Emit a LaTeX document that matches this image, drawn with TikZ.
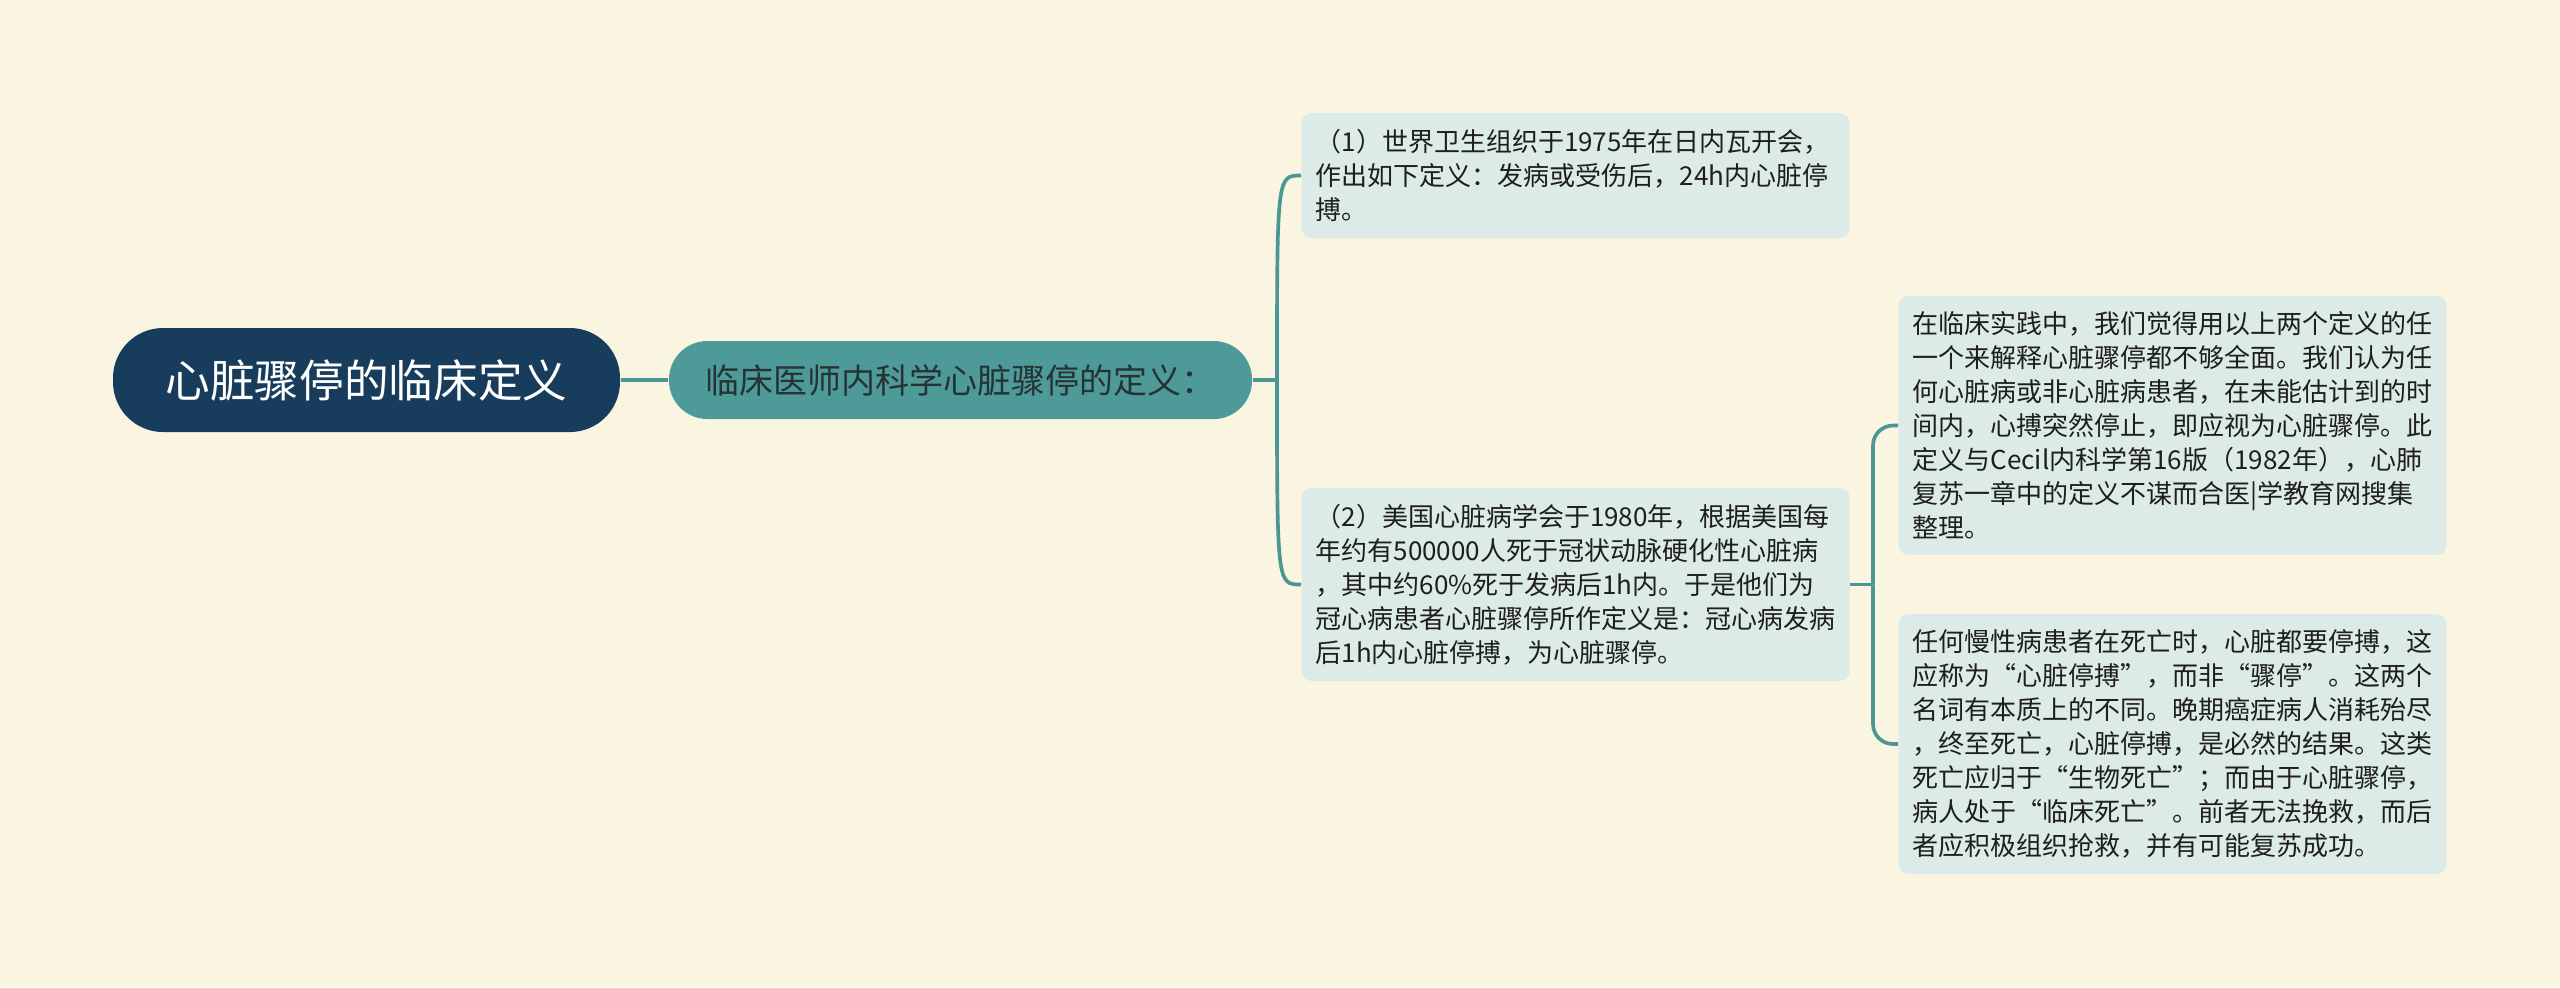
\documentclass[tikz,border=0pt]{standalone}
\usepackage{fontspec}
\newfontfamily\cjk{Noto Sans CJK SC}
\definecolor{bgcream}{RGB}{250,245,224}
\definecolor{rootnavy}{RGB}{24,61,92}
\definecolor{subteal}{RGB}{77,154,152}
\definecolor{linkteal}{RGB}{74,151,150}
\definecolor{leafgray}{RGB}{220,234,232}
\definecolor{subtext}{RGB}{38,50,52}
\definecolor{leaftext}{RGB}{30,30,30}

\begin{document}
\begin{tikzpicture}[x=0.3pt, y=-0.3pt,
    rootbox/.style={fill=rootnavy, text=white, rounded corners=15pt,
        minimum width=152.1pt, minimum height=31.2pt,
        font=\cjk\fontsize{13.4}{16}\selectfont},
    subbox/.style={fill=subteal, text=subtext, rounded corners=11.5pt,
        minimum width=174.9pt, minimum height=23.4pt,
        font=\cjk\fontsize{10.2}{12}\selectfont},
    leafbox/.style={fill=leafgray, text=leaftext, rounded corners=3pt,
        anchor=west, text width=156pt, inner xsep=4.2pt, inner ysep=0pt,
        align=left, font=\cjk\fontsize{7.8}{10.2}\selectfont},
    conn/.style={draw=linkteal, line width=1.1pt}]
    \fill[bgcream] (0,0) rectangle (2560,987);

    \node[rootbox] (root) at (366.5,380) {心脏骤停的临床定义};
    \node[subbox] (sub) at (960.5,380) {临床医师内科学心脏骤停的定义：};
    \node[leafbox, minimum height=37.5pt] (who) at (1301,175.5)
        {（1）世界卫生组织于1975年在日内瓦开会，\\
         作出如下定义：发病或受伤后，24h内心脏停\\
         搏。};
    \node[leafbox, minimum height=57.9pt] (aha) at (1301,584.5)
        {（2）美国心脏病学会于1980年，根据美国每\\
         年约有500000人死于冠状动脉硬化性心脏病\\
         ，其中约60\%死于发病后1h内。于是他们为\\
         冠心病患者心脏骤停所作定义是：冠心病发病\\
         后1h内心脏停搏，为心脏骤停。};
    \node[leafbox, minimum height=77.7pt] (practice) at (1898,425.5)
        {在临床实践中，我们觉得用以上两个定义的任\\
         一个来解释心脏骤停都不够全面。我们认为任\\
         何心脏病或非心脏病患者，在未能估计到的时\\
         间内，心搏突然停止，即应视为心脏骤停。此\\
         定义与Cecil内科学第16版（1982年），心肺\\
         复苏一章中的定义不谋而合医|学教育网搜集\\
         整理。};
    \node[leafbox, minimum height=78pt] (chronic) at (1898,744)
        {任何慢性病患者在死亡时，心脏都要停搏，这\\
         应称为“心脏停搏”，而非“骤停”。这两个\\
         名词有本质上的不同。晚期癌症病人消耗殆尽\\
         ，终至死亡，心脏停搏，是必然的结果。这类\\
         死亡应归于“生物死亡”；而由于心脏骤停，\\
         病人处于“临床死亡”。前者无法挽救，而后\\
         者应积极组织抢救，并有可能复苏成功。};

    \coordinate (hubA) at (1277,380);
    \coordinate (hubB) at (1873,584.5);

    \draw[conn] (root) -- (sub);
    \draw[conn] (sub.east) -- (hubA);
    \draw[conn] (hubA) .. controls (hubA |- who.west) .. (who.west);
    \draw[conn] (hubA) .. controls (hubA |- aha.west) .. (aha.west);
    \draw[conn] (aha.east) -- (hubB);
    \draw[conn, rounded corners=6pt] (hubB) |- (practice.west);
    \draw[conn, rounded corners=6pt] (hubB) |- (chronic.west);
\end{tikzpicture}
\end{document}
